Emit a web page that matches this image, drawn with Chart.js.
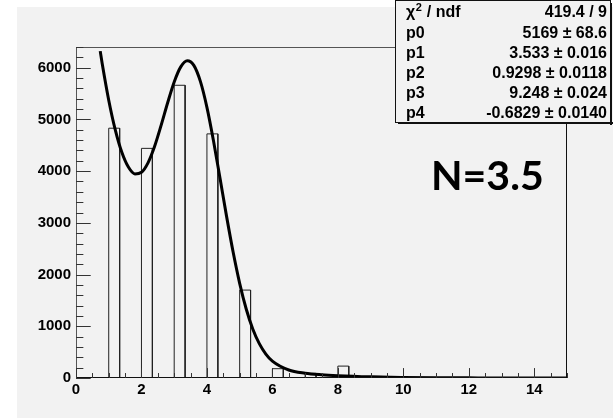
<!DOCTYPE html>
<html>
<head>
<meta charset="utf-8">
<script src="https://cdn.jsdelivr.net/npm/chart.js@4.4.1/dist/chart.umd.min.js"></script>
<style>
  body { margin: 0; background: #ffffff; }
  canvas { display: block; }
</style>
</head>
<body>
<canvas id="myChart" width="613" height="418"></canvas>
<script>
// Histogram bins (lower edge, bin width 1/3) and counts
const binLow = [1, 2, 3, 4, 5, 6, 7, 8, 9];
const binCounts = [4830, 4440, 5660, 4720, 1700, 180, 90, 230, 30];
const binWidth = 1 / 3;

// Fit curve
const fitX = [0.74, 0.8, 1.0, 1.2, 1.4, 1.6, 1.8, 2.0, 2.2, 2.4, 2.6, 2.8, 3.0, 3.2, 3.4, 3.6, 3.8, 4.0,
  4.2, 4.4, 4.6, 4.8, 5.0, 5.2, 5.4, 5.6, 5.8, 6.0, 6.5, 7, 7.5, 8, 9, 10, 11, 12, 13, 14, 15];
const fitY = [6320, 6082, 5372, 4798, 4364, 4078, 3946, 3977, 4160, 4476, 4884, 5322, 5724, 6015, 6134, 6045, 5735, 5233,
  4586, 3861, 3125, 2435, 1831, 1334, 949, 664, 463, 326, 155, 92, 62, 44, 22, 11, 5, 3, 1, 1, 0];

// Axis tick labels
const xTickLabels = [0, 2, 4, 6, 8, 10, 12, 14];
const yTickLabels = [0, 1000, 2000, 3000, 4000, 5000, 6000];

// Stats box
const statNames = ["p0", "p1", "p2", "p3", "p4"];
const statValues = ["5169 \u00b1 68.6", "3.533 \u00b1 0.016", "0.9298 \u00b1 0.0118", "9.248 \u00b1 0.024", "-0.6829 \u00b1 0.0140"];
const chi2Text = "419.4 / 9";
const noteText = "N=3.5";

// build histogram outline
const histPoints = [{ x: 0, y: 0 }];
binLow.forEach((lo, i) => {
    histPoints.push({ x: lo, y: 0 }, { x: lo, y: binCounts[i] },
        { x: lo + binWidth, y: binCounts[i] }, { x: lo + binWidth, y: 0 });
});
histPoints.push({ x: 15, y: 0 });

const fitPoints = fitX.map((x, i) => ({ x: x, y: fitY[i] }));

const panelColor = "#f2f2f2";

const rootStyle = {
    id: "rootStyle",
    beforeDraw(chart) {
        const ctx = chart.ctx;
        ctx.save();
        ctx.fillStyle = panelColor;
        ctx.fillRect(17, 7, chart.width - 17, chart.height - 7);
        ctx.restore();
    },
    afterDatasetsDraw(chart) {
        const ctx = chart.ctx;
        const a = chart.chartArea;
        const xs = chart.scales.x, ys = chart.scales.y;
        ctx.save();
        ctx.lineWidth = 1;
        // frame
        ctx.strokeStyle = "#555";
        ctx.beginPath();
        ctx.moveTo(a.left + 0.5, a.bottom);
        ctx.lineTo(a.left + 0.5, a.top + 0.5);
        ctx.lineTo(a.right - 0.5, a.top + 0.5);
        ctx.stroke();
        ctx.strokeStyle = "#111";
        ctx.beginPath();
        ctx.moveTo(a.right - 0.5, a.top);
        ctx.lineTo(a.right - 0.5, a.bottom - 0.5);
        ctx.lineTo(a.left, a.bottom - 0.5);
        ctx.stroke();
        // y ticks
        ctx.strokeStyle = "#333";
        const majY = (a.right - a.left) * 0.03;
        for (let v = 0; v <= 6400; v += 200) {
            const py = Math.round(ys.getPixelForValue(v)) + 0.5;
            const len = v % 1000 === 0 ? majY : majY / 2;
            ctx.beginPath();
            ctx.moveTo(a.left, py);
            ctx.lineTo(a.left + len, py);
            ctx.stroke();
        }
        // x ticks
        const majX = (a.bottom - a.top) * 0.03;
        for (let v = 0; v <= 15; v += 0.5) {
            const px = Math.round(xs.getPixelForValue(v)) + 0.5;
            const len = v % 2 === 0 ? majX : majX / 2;
            ctx.beginPath();
            ctx.moveTo(px, a.bottom);
            ctx.lineTo(px, a.bottom - len);
            ctx.stroke();
        }

        // stats box
        const bx = 395, by = 0, bw = 215, bh = 122;
        ctx.fillStyle = "#111";
        ctx.fillRect(bx + 3, by + bh, bw, 2);
        ctx.fillRect(bx + bw, by + 3, 2, bh);
        ctx.fillStyle = panelColor;
        ctx.fillRect(bx, by, bw, bh);
        ctx.strokeStyle = "#111";
        ctx.strokeRect(bx + 0.5, by + 0.5, bw, bh);

        ctx.fillStyle = "#000";
        ctx.textBaseline = "middle";
        ctx.font = "bold 16px 'Liberation Sans', Arial, sans-serif";
        const rowH = 20.2;
        const row0 = by + 13;
        // chi2 row
        ctx.textAlign = "left";
        ctx.fillText("\u03c7", 406, row0);
        let w = ctx.measureText("\u03c7").width;
        ctx.font = "bold 11px 'Liberation Sans', Arial, sans-serif";
        ctx.fillText("2", 406 + w + 0.5, row0 - 5);
        const w2 = ctx.measureText("2").width;
        ctx.font = "bold 16px 'Liberation Sans', Arial, sans-serif";
        ctx.fillText(" / ndf", 406 + w + w2 + 1, row0);
        ctx.textAlign = "right";
        ctx.fillText(chi2Text, 607, row0);
        statNames.forEach((n, i) => {
            const yy = row0 + rowH * (i + 1);
            ctx.textAlign = "left";
            ctx.fillText(n, 406, yy);
            ctx.textAlign = "right";
            ctx.fillText(statValues[i], 607, yy);
        });

        // note
        ctx.textAlign = "left";
        ctx.textBaseline = "alphabetic";
        ctx.font = "bold 41px Lato, 'Open Sans', sans-serif";
        ctx.fillText(noteText, 431, 190);
        ctx.restore();
    }
};

const ctx = document.getElementById("myChart").getContext("2d");
const myChart = new Chart(ctx, {
    type: "line",
    data: {
        datasets: [{
            label: "fit",
            data: fitPoints,
            borderColor: "#000",
            borderWidth: 3,
            pointRadius: 0,
            cubicInterpolationMode: "monotone",
            fill: false,
            order: 0
        }, {
            label: "hist",
            data: histPoints,
            borderColor: "#222",
            borderWidth: 1,
            pointRadius: 0,
            tension: 0,
            fill: false,
            order: 1
        }]
    },
    options: {
        responsive: false,
        animation: false,
        layout: { padding: { left: 0, top: 47, right: 46, bottom: 0 } },
        plugins: { legend: { display: false }, tooltip: { enabled: false } },
        scales: {
            x: {
                type: "linear",
                min: 0,
                max: 15,
                grid: { display: false, drawTicks: false },
                border: { display: false },
                afterBuildTicks: scale => { scale.ticks = xTickLabels.map(v => ({ value: v })); },
                afterFit: scale => { scale.height = 40; },
                ticks: {
                    padding: 3,
                    maxRotation: 0,
                    autoSkip: false,
                    color: "#000",
                    callback: v => String(v),
                    font: { family: "'Liberation Sans', Arial, sans-serif", size: 15, weight: "bold" }
                }
            },
            y: {
                type: "linear",
                min: 0,
                max: 6400,
                grid: { display: false, drawTicks: false },
                border: { display: false },
                afterBuildTicks: scale => { scale.ticks = yTickLabels.map(v => ({ value: v })); },
                afterFit: scale => { scale.width = 76; },
                ticks: {
                    padding: 5,
                    autoSkip: false,
                    color: "#000",
                    callback: v => String(v),
                    font: { family: "'Liberation Sans', Arial, sans-serif", size: 15, weight: "bold" }
                }
            }
        }
    },
    plugins: [rootStyle]
});
</script>
</body>
</html>
